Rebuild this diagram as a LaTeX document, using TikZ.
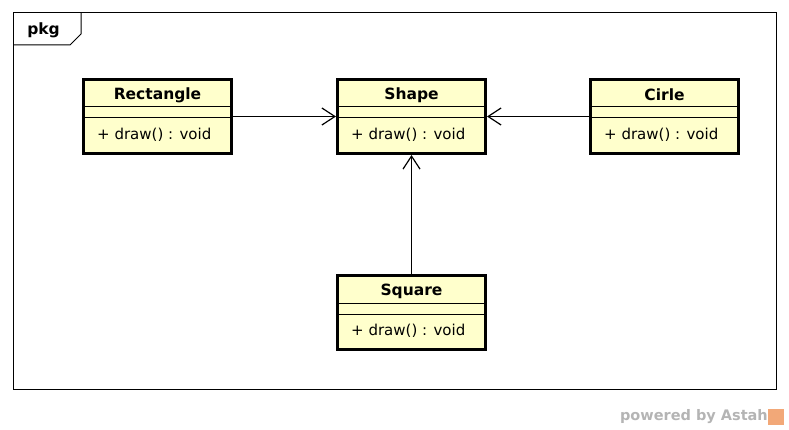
\documentclass[tikz,border=0pt]{standalone}
\usepackage{fontspec}
\setmainfont{DejaVu Sans}
\usetikzlibrary{arrows.meta,calc}
\definecolor{classfill}{HTML}{FFFFCC}
\definecolor{wmgray}{HTML}{B4B4B4}
\definecolor{wmorange}{HTML}{F2A878}
\tikzset{
  umlbox/.style={draw=black, line width=3pt, fill=classfill, rectangle,
    minimum width=148pt, minimum height=74pt, inner sep=0pt, anchor=north west},
  titletext/.style={font=\fontsize{15.5}{18}\selectfont\bfseries, inner sep=0pt},
  optext/.style={font=\fontsize{15}{18}\selectfont, inner sep=0pt, anchor=west},
  seprule/.style={draw=black, line width=1pt},
  frameline/.style={draw=black, line width=1pt},
  assoc/.style={draw=black, line width=1.2pt, -{Straight Barb[length=13pt,width=17pt,line width=1.2pt]}},
}
\newcommand{\umlclass}[4]{%
  \node[umlbox] (#1) at (#2,#3) {};
  \node[titletext] (#1-title) at ($(#1.north)+(0,17)$) {#4};
  \draw[seprule] ($(#1.north west)+(1.5,29)$) -- ($(#1.north east)+(-1.5,29)$);
  \draw[seprule] ($(#1.north west)+(1.5,40)$) -- ($(#1.north east)+(-1.5,40)$);
  \node[optext] (#1-op) at ($(#1.north west)+(15,57)$) {+ draw() : void};
}
\begin{document}
\begin{tikzpicture}[x=1pt,y=-1pt]
\useasboundingbox (0,0) rectangle (789,430);
% package frame
\draw[frameline] (13,13) rectangle (776,389);
\draw[frameline] (13,45) -- (70,45) -- (81,34) -- (81,13);
\node[font=\fontsize{15.5}{18}\selectfont\bfseries, inner sep=0pt] (pkg) at (43.5,30) {pkg};
% classes
\umlclass{rect}{82}{78}{Rectangle}
\umlclass{shape}{336}{78}{Shape}
\umlclass{cirle}{589}{78}{Cirle}
\umlclass{square}{336}{274}{Square}
% associations
\draw[assoc] (rect.east) -- (shape.west);
\draw[assoc] (cirle.west) -- (shape.east);
\draw[assoc] (square.north) -- (shape.south);
% watermark
\node[font=\fontsize{14.5}{16}\selectfont\bfseries, text=wmgray, inner sep=0pt, anchor=east] (wm) at (768,417) {powered by Astah};
\node[fill=wmorange, minimum width=16pt, minimum height=16pt, inner sep=0pt, anchor=west] (wmicon) at (wm.east) {};
\end{tikzpicture}
\end{document}
